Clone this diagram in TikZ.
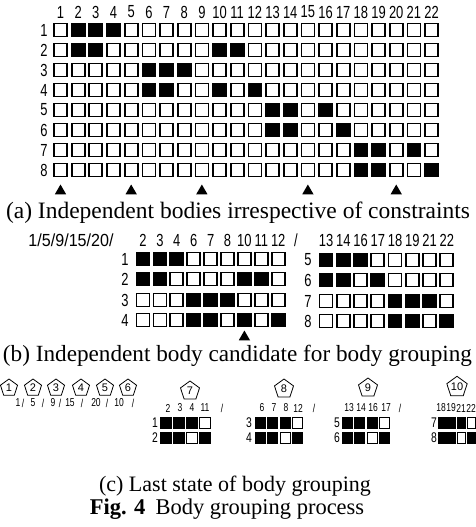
\documentclass[tikz,border=0pt]{standalone}
\usepackage{fontspec}
\usepackage{graphicx}
\setmainfont{Liberation Serif}
\newfontfamily\digfont{Liberation Sans}
\usetikzlibrary{shapes.geometric}
\newcommand\dgt[1]{\scalebox{0.74}[1]{#1}}
\tikzset{
  cell/.style={draw=black, line width=1.7pt, minimum size=13pt, inner sep=0pt},
  scell/.style={draw=black, line width=1pt, minimum height=10.5pt, inner sep=0pt},
  num/.style={font={\digfont\fontsize{17.5pt}{18pt}\selectfont}, inner sep=0pt},
  rnum/.style={font={\digfont\fontsize{14pt}{15pt}\selectfont}, inner sep=0pt},
  snum/.style={font={\digfont\fontsize{11.5pt}{12pt}\selectfont}, inner sep=0pt},
  tri/.style={regular polygon, regular polygon sides=3, fill=black, minimum size=13pt, inner sep=0pt},
  penta/.style={regular polygon, regular polygon sides=5, draw=black, line width=0.8pt, minimum size=18pt, inner sep=0pt, font={\digfont\fontsize{11pt}{12pt}\selectfont}},
  captxt/.style={inner sep=0pt}
}
\begin{document}
\begin{tikzpicture}[x=1pt,y=-1pt]
\useasboundingbox (0,0) rectangle (476,527);
% ---------- (a) ----------
\foreach \c in {1,...,22}{
  \node[num] (ca\c) at ({60.5+(\c-1)*17.67},12) {\dgt{\c}};
}
\foreach \r/\bl in {1/{2,3,4},2/{2,3,10,11},3/{6,7,8},4/{6,7,10,12},5/{13,14,16},6/{13,14,17},7/{18,19,21},8/{18,19,22}}{
  \node[num] (ra\r) at (44,{30+(\r-1)*20}) {\dgt{\r}};
  \foreach \c in {1,...,22}{
    \gdef\fc{white}
    \foreach \b in \bl {\ifnum\b=\c\relax\gdef\fc{black}\fi}
    \node[cell, fill=\fc] (a\r-\c) at ({60.5+(\c-1)*17.67},{30+(\r-1)*20}) {};
  }
}
\foreach \c in {1,5,9,15,20}{
  \node[tri] (ta\c) at ({60.5+(\c-1)*17.67},191) {};
}
\node[captxt, font={\fontsize{23.5pt}{25pt}\selectfont}] (capa) at (238,213) {(a) Independent bodies irrespective of constraints};
% ---------- (b) ----------
\node[num] (bhead) at (71,240) {\scalebox{0.92}[1]{1/5/9/15/20/}};
\foreach \c [count=\i from 0] in {2,3,4,6,7,8,10,11,12}{
  \node[num] (cb\c) at ({143+\i*16.9},240) {\dgt{\c}};
}
\node[num] (bslash) at (296,240) {\dgt{/}};
\foreach \c [count=\i from 0] in {13,14,16,17,18,19,21,22}{
  \node[num] (cb\c) at ({326+\i*17.25},240) {\dgt{\c}};
}
\foreach \r/\y/\bl in {1/259/{2,3,4},2/279/{2,3,10,11},3/300/{6,7,8},4/320/{6,7,10,12}}{
  \node[num] (rb\r) at (125,\y) {\dgt{\r}};
  \foreach \c [count=\i from 0] in {2,3,4,6,7,8,10,11,12}{
    \gdef\fc{white}
    \foreach \b in \bl {\ifnum\b=\c\relax\gdef\fc{black}\fi}
    \node[cell, fill=\fc] (b\r-\c) at ({143+\i*16.9},\y) {};
  }
}
\foreach \r/\y/\bl in {5/260/{13,14,16},6/280/{13,14,17},7/301/{18,19,21},8/321/{18,19,22}}{
  \node[num] (rb\r) at (308,\y) {\dgt{\r}};
  \foreach \c [count=\i from 0] in {13,14,16,17,18,19,21,22}{
    \gdef\fc{white}
    \foreach \b in \bl {\ifnum\b=\c\relax\gdef\fc{black}\fi}
    \node[cell, fill=\fc] (b\r-\c) at ({326+\i*17.25},\y) {};
  }
}
\node[tri] (tb) at ({143+6*16.9},337) {};
\node[captxt, font={\fontsize{23.2pt}{25pt}\selectfont}] (capb) at (237.5,356) {(b) Independent body candidate for body grouping};
% ---------- (c) ----------
\foreach \n/\x in {1/9,2/33,3/56,4/81,5/105,6/128}{
  \node[penta] (p\n) at (\x,388) {\n};
}
\foreach \t/\x in {1/18,5/33,9/53,15/70,20/96,10/119}{
  \node[snum] (l\t) at (\x,403) {\dgt{\t}};
}
\foreach \x [count=\k] in {23,43,60,82,107,133}{
  \node[snum] (sl\k) at (\x,403) {\dgt{/}};
}
\foreach \n/\x/\y in {7/190/391,8/284/389,9/368/388,10/457/387}{
  \node[penta, minimum size=20pt] (p\n) at (\x,\y) {\n};
}
\foreach \g/\t/\x in {7/2/168,7/3/180,7/4/192,7/11/205,8/6/262,8/7/274,8/8/286,8/12/298,9/13/349,9/14/361,9/16/373,9/17/386,10/18/441,10/19/451,10/21/461,10/22/471}{
  \node[snum] (h\g-\t) at (\x,408) {\dgt{\t}};
}
\foreach \g/\x in {7/222,8/314,9/400}{
  \node[snum] (hs\g) at (\x,408) {\dgt{/}};
}
\foreach \g/\lx/\sx/\dx/\w/\ra/\rb in {7/155/166/13/10.5/1/2,8/249/260/12.5/10/3/4,9/337/347/12.5/10/5/6,10/434/442/9.8/8/7/8}{
  \node[rnum] (rc\ra) at (\lx,423) {\dgt{\ra}};
  \node[rnum] (rc\rb) at (\lx,438) {\dgt{\rb}};
  \foreach \k in {1,2,3,4}{
    \ifnum\k=4 \gdef\fc{white}\else\gdef\fc{black}\fi
    \node[scell, minimum width=\w pt, fill=\fc] (c\ra-\k) at ({\sx+(\k-1)*\dx},423) {};
    \ifnum\k=3 \gdef\fc{white}\else\gdef\fc{black}\fi
    \node[scell, minimum width=\w pt, fill=\fc] (c\rb-\k) at ({\sx+(\k-1)*\dx},438) {};
  }
}
\node[captxt, font={\fontsize{22pt}{24pt}\selectfont}] (capc) at (235,486) {(c) Last state of body grouping};
\node[captxt, font={\fontsize{22.5pt}{24pt}\selectfont}] (fig) at (227,509) {\textbf{Fig. 4}\hspace{0.45em}Body grouping process};
\end{tikzpicture}
\end{document}
